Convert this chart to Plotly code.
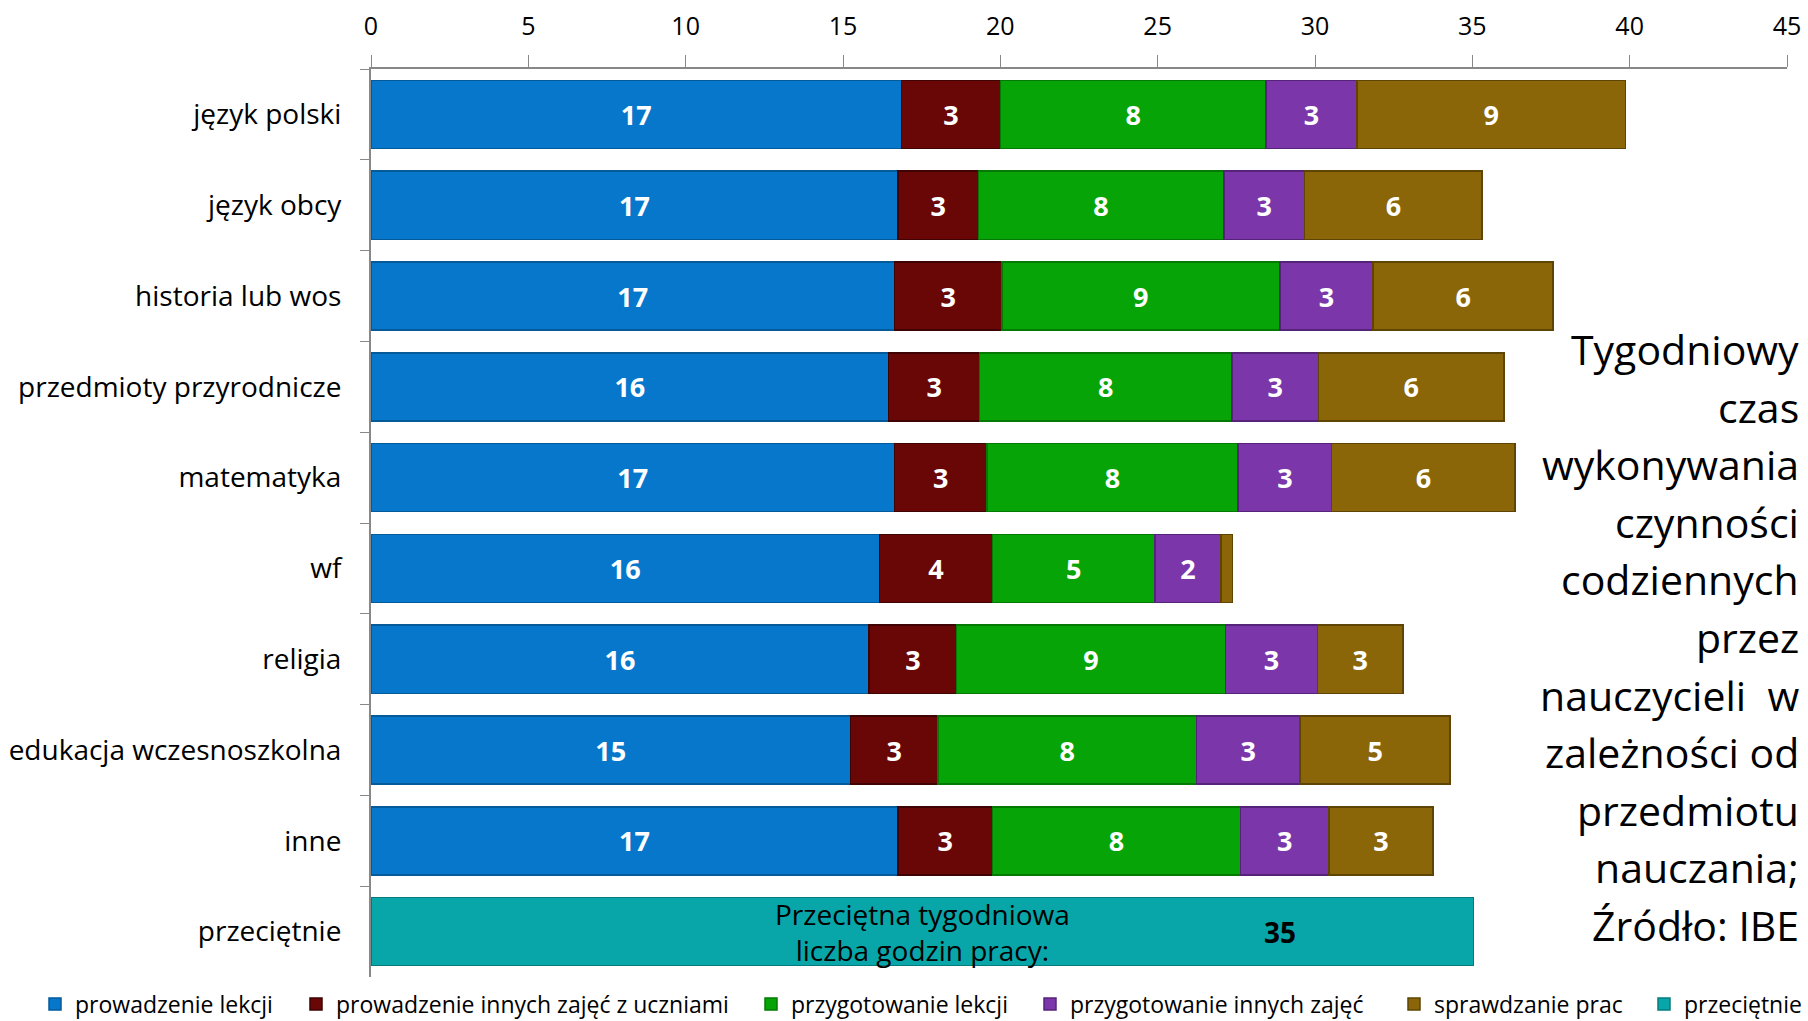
import plotly.graph_objects as go

categories = ["język polski", "język obcy", "historia lub wos", "przedmioty przyrodnicze",
              "matematyka", "wf", "religia", "edukacja wczesnoszkolna", "inne", "przeciętnie"]

series_names = ["prowadzenie lekcji", "prowadzenie innych zajęć z uczniami", "przygotowanie lekcji",
                "przygotowanie innych zajęć", "sprawdzanie prac"]
avg_name = "przeciętnie"

prowadzenie_lekcji = [16.86, 16.75, 16.64, 16.45, 16.64, 16.16, 15.83, 15.24, 16.75, None]
prowadzenie_innych = [3.15, 2.55, 3.41, 2.89, 2.93, 3.59, 2.78, 2.78, 3.00, None]
przygotowanie_lekcji = [8.43, 7.80, 8.83, 8.02, 7.99, 5.17, 8.54, 8.21, 7.88, None]
przygotowanie_innych = [2.89, 2.57, 2.97, 2.75, 2.97, 2.09, 2.93, 3.30, 2.82, None]
sprawdzanie_prac = [8.54, 5.64, 5.72, 5.90, 5.83, 0.37, 2.71, 4.76, 3.30, None]
przecietnie = [None, None, None, None, None, None, None, None, None, 35.03]

series_values = [prowadzenie_lekcji, prowadzenie_innych, przygotowanie_lekcji,
                 przygotowanie_innych, sprawdzanie_prac]
colors = ["#0777CC", "#690606", "#06A406", "#7B37AA", "#8A6608"]
line_colors = ["#055A9A", "#3F0303", "#047A04", "#56237A", "#5E4505"]
avg_color = "#08A6A8"
avg_line_color = "#067B7D"

x_ticks = [0, 5, 10, 15, 20, 25, 30, 35, 40, 45]

title_lines = ["Tygodniowy", "czas", "wykonywania", "czynności", "codziennych", "przez",
               "nauczycieli  w", "zależności od", "przedmiotu", "nauczania;", "Źródło: IBE"]
avg_label_lines = "Przeciętna tygodniowa<br>liczba godzin pracy:"

FONT = "Open Sans"

H, W = 1021, 1808
plot_top, plot_bottom = 69, 977
plot_left, plot_right = 371, 1787
plot_h = plot_bottom - plot_top
plot_w = plot_right - plot_left

# legend entry positions (left edge of each legend symbol, px)
legend_symbol_px = [48, 309, 764, 1043, 1407, 1657]
legend_mid_px = 1004
legend_ids = ["legend", "legend2", "legend3", "legend4", "legend5", "legend6"]

fig = go.Figure()
for i, (name, vals, c, lc) in enumerate(zip(series_names, series_values, colors, line_colors)):
    fig.add_trace(go.Bar(
        y=categories, x=vals, name=name, orientation="h",
        marker=dict(color=c, line=dict(color=lc, width=1.5)),
        texttemplate="%{x:.0f}", textposition="inside", insidetextanchor="middle",
        textfont=dict(color="white", size=27, family=FONT, weight="bold"),
        hoverinfo="x+y+name", legend=legend_ids[i],
    ))

fig.add_trace(go.Bar(
    y=categories, x=przecietnie, name=avg_name, orientation="h",
    marker=dict(color=avg_color, line=dict(color=avg_line_color, width=1.5)),
    hoverinfo="x+y+name", legend=legend_ids[5],
))

avg_val = przecietnie[-1]
fig.add_annotation(x=avg_val / 2, y=categories[-1], xref="x", yref="y",
                   text=avg_label_lines, showarrow=False,
                   font=dict(size=28, color="black", family=FONT))
fig.add_annotation(x=avg_val * 0.825, y=categories[-1], xref="x", yref="y",
                   text="<b>%d</b>" % round(avg_val), showarrow=False,
                   font=dict(size=28, color="black", family=FONT))

first_line_px, line_step_px, title_right_px = 349, 57.6, 1801
for i, line in enumerate(title_lines):
    ypx = first_line_px + i * line_step_px
    fig.add_annotation(x=(title_right_px - plot_left) / plot_w, y=(plot_bottom - ypx) / plot_h,
                       xref="paper", yref="paper", xanchor="right", yanchor="middle",
                       text=line, showarrow=False,
                       font=dict(size=41, color="black", family=FONT))

legend_layouts = {}
for lid, sx in zip(legend_ids, legend_symbol_px):
    legend_layouts[lid] = dict(
        orientation="h", xref="paper", yref="paper",
        x=(sx - 13 - plot_left) / plot_w, y=(plot_bottom - legend_mid_px) / plot_h,
        xanchor="left", yanchor="middle", bgcolor="rgba(0,0,0,0)",
        font=dict(size=23, family=FONT, color="black"), itemwidth=30,
    )

fig.update_layout(
    width=W, height=H,
    margin=dict(l=plot_left, r=W - plot_right, t=plot_top, b=H - plot_bottom, autoexpand=False),
    barmode="stack", bargap=0.25,
    plot_bgcolor="white", paper_bgcolor="white",
    font=dict(family=FONT, color="black"),
    showlegend=True,
    xaxis=dict(side="top", range=[0, 45], tickvals=x_ticks, ticks="outside", ticklen=12,
               tickcolor="#888888", showline=True, linecolor="#888888", linewidth=2,
               showgrid=False, zeroline=False, tickfont=dict(size=25, family=FONT),
               ticklabelstandoff=10),
    yaxis=dict(autorange="reversed", ticks="outside", tickson="boundaries", ticklen=9,
               tickcolor="#888888", showline=True, linecolor="#888888", linewidth=2,
               showgrid=False, tickfont=dict(size=28, family=FONT), ticklabelstandoff=22),
    uniformtext=dict(minsize=20, mode="hide"),
    **legend_layouts,
)

fig.write_html("out.html", config={"displayModeBar": False},
               post_script="document.body.style.margin='0';")
